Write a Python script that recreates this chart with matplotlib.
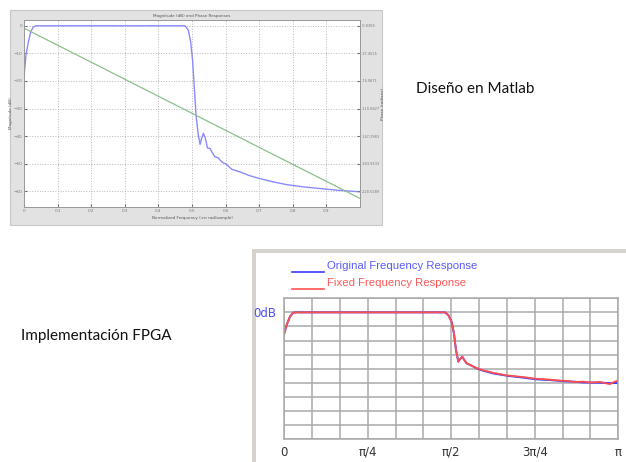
import matplotlib
matplotlib.use('Agg')
import matplotlib.pyplot as plt
import numpy as np
from matplotlib.patches import Rectangle
from matplotlib.lines import Line2D

W, H = 626, 462

# --- Matlab design (fvtool screenshot) ---
mat_freq = [0, 0.006, 0.013, 0.02, 0.028, 0.036, 0.2, 0.4, 0.479, 0.489, 0.496,
            0.502, 0.507, 0.512, 0.519, 0.524, 0.528, 0.534, 0.54, 0.546, 0.554,
            0.558, 0.568, 0.578, 0.588, 0.603, 0.618, 0.643, 0.673, 0.702, 0.742,
            0.782, 0.831, 0.881, 0.931, 1.0]
mat_mag = [-18.5, -10.6, -5.8, -2.2, -0.4, 0, 0, 0, 0, -1.6, -5.8,
           -13, -22.7, -32.4, -39.7, -43, -41, -39, -40.9, -44.3, -44.5,
           -45.5, -47.5, -47.9, -49.3, -50.3, -52, -53, -54.4, -55.4, -56.6,
           -57.6, -58.4, -59, -59.6, -60.2]
phase_freq = [0, 1.0]
phase_rad = [-4.0, -230.0]
mag_ticks = [0, -10, -20, -30, -40, -50, -60]
phase_ticks = ['-0.8359', '-37.4515', '-74.0671', '-110.6827',
               '-147.2983', '-183.9133', '-220.5289']

# --- FPGA implementation ---
fpga_freq = [0, 0.007, 0.017, 0.027, 0.037, 0.2, 0.4, 0.481, 0.491, 0.501,
             0.508, 0.514, 0.521, 0.528, 0.533, 0.539, 0.546, 0.561, 0.576,
             0.596, 0.626, 0.666, 0.716, 0.755, 0.795, 0.82, 0.845, 0.87,
             0.895, 0.92, 0.945, 0.96, 0.975, 0.988, 1.0]
orig_mag = [-14.9, -9, -3, -0.2, 0, 0, 0, 0, -1.9, -6.6,
            -15, -26.8, -35, -32.7, -31.5, -33.9, -36.2, -37.9, -39.8,
            -41.5, -43.4, -45, -46.4, -47.6, -48.1, -48.6, -49.0, -49.3,
            -49.8, -49.9, -50.0, -50.1, -50.3, -50.2, -50.2]
fixed_mag = [-14.9, -9, -3, -0.2, 0, 0, 0, 0, -1.9, -6.6,
             -15, -26.8, -35, -32.7, -31.5, -33.9, -36.2, -37.9, -39.6,
             -41.2, -43.0, -44.8, -46.0, -47.2, -47.8, -48.4, -48.7, -49.5,
             -49.2, -49.9, -49.4, -50.3, -51.0, -49.4, -48.3]
fpga_xticks = [0, 0.25, 0.5, 0.75, 1.0]
fpga_xlabels = ['0', 'π/4', 'π/2', '3π/4', 'π']


def fig_rect(x0, y0, x1, y1):
    # pixel box (top-left origin) -> figure fraction
    return [x0 / W, (H - y1) / H, (x1 - x0) / W, (y1 - y0) / H]


fig = plt.figure(figsize=(W / 100, H / 100), dpi=100)
fig.patch.set_facecolor('white')

# gray background of the Matlab window
r = fig_rect(10, 10, 382, 225)
fig.add_artist(Rectangle((r[0], r[1]), r[2], r[3], transform=fig.transFigure,
                         facecolor='#e2e2e2', edgecolor='#c8c8c8', lw=0.8, zorder=-10))

ax = fig.add_axes(fig_rect(24, 20, 360, 207))
ax.set_facecolor('white')
ax.plot(mat_freq, mat_mag, color='#8a8aff', lw=1.0)
ax.set_xlim(0, 1)
ax.set_ylim(-65.7, 2.1)
ax.set_xticks(np.arange(0, 1.0, 0.1))
ax.set_xticklabels(['0'] + ['%.1f' % v for v in np.arange(0.1, 1.0, 0.1)])
ax.set_yticks(mag_ticks)
ax.grid(True, ls=':', color='#b8b8b8', lw=0.7)
ax.tick_params(direction='in', length=2, labelsize=3, colors='#777777', pad=1.5)
for s in ax.spines.values():
    s.set_color('#999999')
    s.set_linewidth(0.6)
ax.set_title('Magnitude (dB) and Phase Responses', fontsize=3, color='#555555', pad=2)
ax.set_xlabel('Normalized Frequency (\u00d7\u03c0 rad/sample)', fontsize=3,
              color='#555555', labelpad=2)
ax.set_ylabel('Magnitude (dB)', fontsize=3, color='#555555')
ax.yaxis.set_label_coords(-0.033, 0.5)

ax2 = ax.twinx()
top_ph, bot_ph = -0.8359, -220.5289
scale = (top_ph - bot_ph) / 60.0
ax2.set_ylim(top_ph + (-65.7) * scale, top_ph + 2.1 * scale)
ax2.plot(phase_freq, phase_rad, color='#8cbf8c', lw=0.9)
ax2.set_yticks([top_ph + v * scale for v in mag_ticks])
ax2.set_yticklabels(phase_ticks)
ax2.tick_params(direction='in', length=2, labelsize=2.5, colors='#777777', pad=1.2)
ax2.set_ylabel('Phase (radians)', fontsize=3, color='#555555')
ax2.yaxis.set_label_coords(1.062, 0.55)
for s in ax2.spines.values():
    s.set_color('#999999')
    s.set_linewidth(0.6)

fig.text(416 / W, 1 - 89 / H, 'Diseño en Matlab', fontsize=11, family='Lato',
         color='#111111', va='center', ha='left')
fig.text(21 / W, 1 - 336 / H, 'Implementación FPGA', fontsize=11, family='Lato',
         color='#111111', va='center', ha='left')

# FPGA tool window frame
r = fig_rect(252, 249, 626, 462)
fig.add_artist(Rectangle((r[0], r[1]), r[2], r[3], transform=fig.transFigure,
                         facecolor='#d6d3ce', edgecolor='none', zorder=-10))
r = fig_rect(256, 253, 626, 462)
fig.add_artist(Rectangle((r[0], r[1]), r[2], r[3], transform=fig.transFigure,
                         facecolor='white', edgecolor='none', zorder=-9))

bx = fig.add_axes(fig_rect(284.3, 298.3, 618.3, 439))
bx.plot(fpga_freq, orig_mag, color='#3a3aff', lw=1.4)
bx.plot(fpga_freq, fixed_mag, color='#ff5050', lw=1.3)
bx.set_xlim(0, 1)
bx.set_ylim(-90, 10)
bx.set_xticks(np.linspace(0, 1, 13), minor=True)
bx.set_yticks(np.arange(-90, 11, 10), minor=True)
bx.set_xticks(fpga_xticks)
bx.set_xticklabels(fpga_xlabels)
bx.set_yticks([0])
bx.set_yticklabels(['0dB'])
bx.grid(True, which='both', color='#a9a9a9', lw=1.1)
bx.set_axisbelow(True)
bx.tick_params(which='both', length=0)
bx.tick_params(axis='x', labelsize=8.5, colors='#333333', pad=5)
bx.tick_params(axis='y', labelsize=8.5, colors='#5050ff', pad=6)
for s in bx.spines.values():
    s.set_color('#a9a9a9')
    s.set_linewidth(1.1)

# legend of the FPGA tool
for ly, ty, lc, tc, label in [(271.5, 266, '#3a3aff', '#5a5aff', 'Original Frequency Response'),
                               (288.5, 283.5, '#ff5050', '#ff5a5a', 'Fixed Frequency Response')]:
    fig.add_artist(Line2D([292 / W, 324 / W], [1 - ly / H, 1 - ly / H],
                          transform=fig.transFigure, color=lc, lw=1.2))
    fig.text(327 / W, 1 - ty / H, label, fontsize=8.2, color=tc, va='center', ha='left',
             family='Liberation Sans')

fig.savefig('out.png', dpi=100, facecolor='white')
